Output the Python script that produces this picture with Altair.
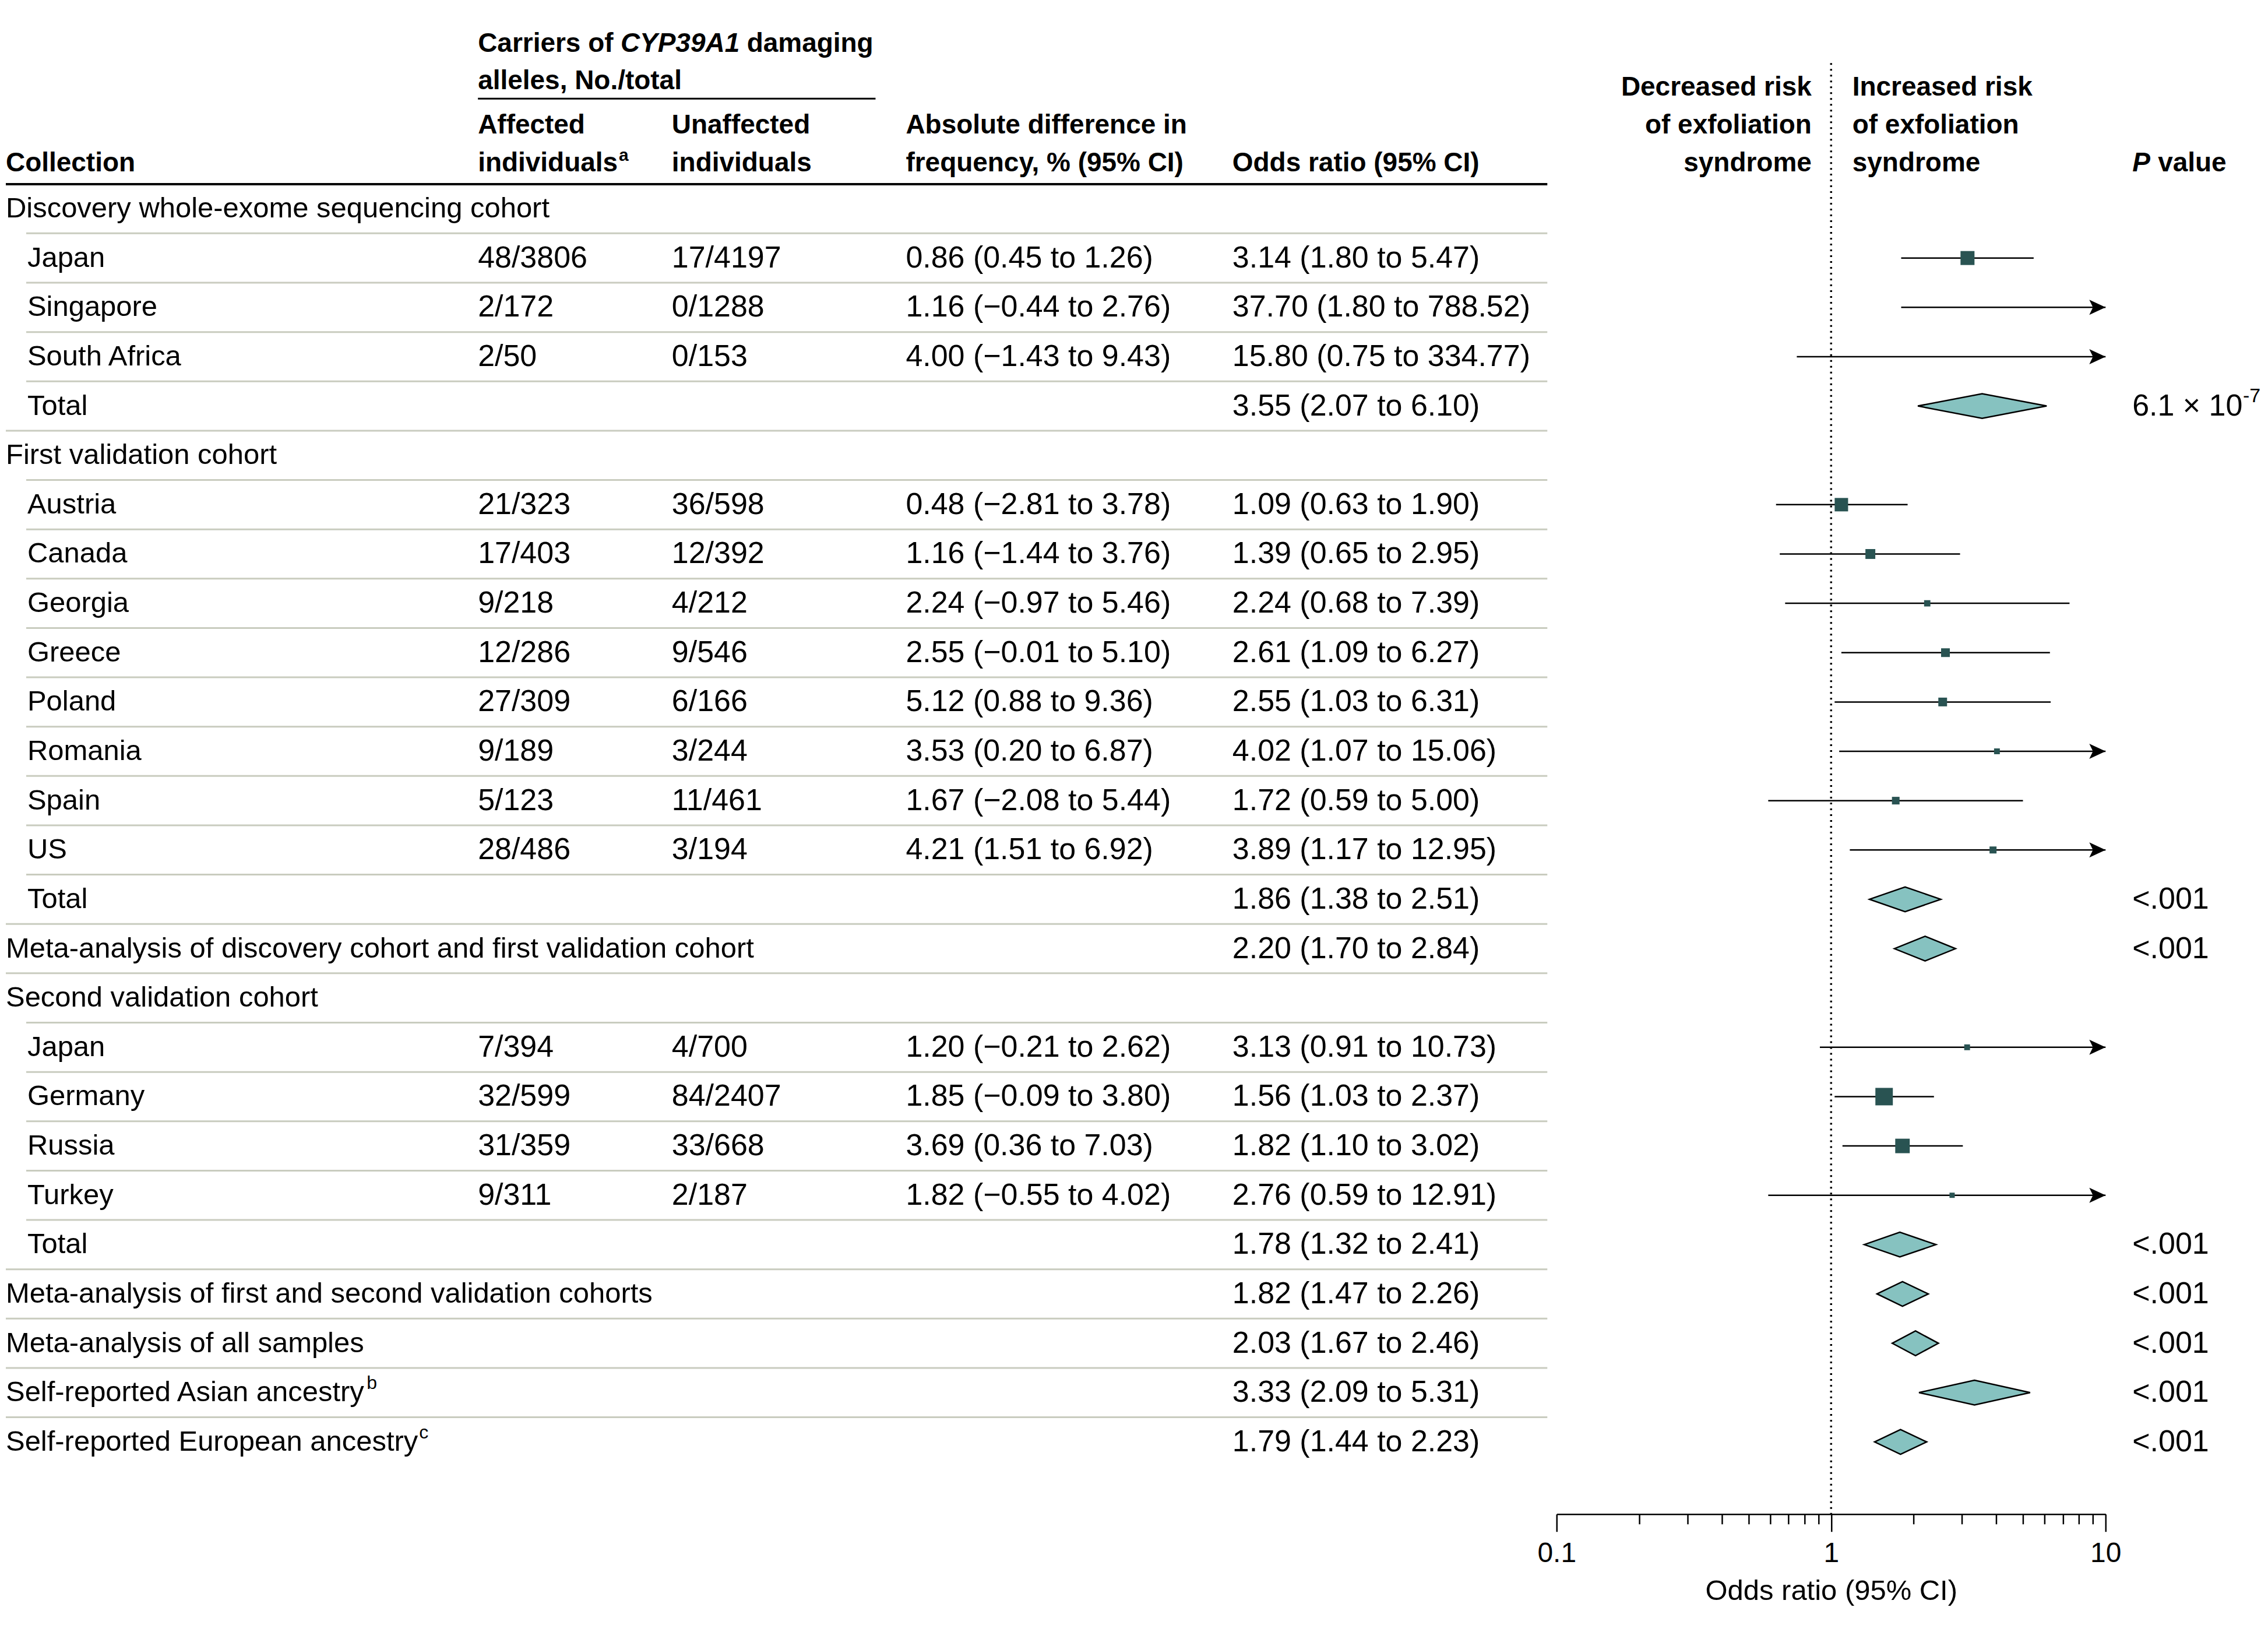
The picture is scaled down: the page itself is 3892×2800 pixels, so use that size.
import altair as alt
import pandas as pd
import numpy as np

# ---------------- data ----------------
labels = [
    "Discovery whole-exome sequencing cohort", "Japan", "Singapore", "South Africa", "Total",
    "First validation cohort", "Austria", "Canada", "Georgia", "Greece", "Poland", "Romania",
    "Spain", "US", "Total",
    "Meta-analysis of discovery cohort and first validation cohort",
    "Second validation cohort", "Japan", "Germany", "Russia", "Turkey", "Total",
    "Meta-analysis of first and second validation cohorts",
    "Meta-analysis of all samples",
    "Self-reported Asian ancestry",
    "Self-reported European ancestry",
]
notes = [""] * 24 + ["b", "c"]
kinds = [
    "group", "study", "study", "study", "summary",
    "group", "study", "study", "study", "study", "study", "study", "study", "study", "summary",
    "meta",
    "group", "study", "study", "study", "study", "summary",
    "meta", "meta", "meta", "meta",
]
affected = ["", "48/3806", "2/172", "2/50", "", "", "21/323", "17/403", "9/218", "12/286",
            "27/309", "9/189", "5/123", "28/486", "", "", "", "7/394", "32/599", "31/359",
            "9/311", "", "", "", "", ""]
unaffected = ["", "17/4197", "0/1288", "0/153", "", "", "36/598", "12/392", "4/212", "9/546",
              "6/166", "3/244", "11/461", "3/194", "", "", "", "4/700", "84/2407", "33/668",
              "2/187", "", "", "", "", ""]
absdiff = ["", "0.86 (0.45 to 1.26)", "1.16 (\u22120.44 to 2.76)", "4.00 (\u22121.43 to 9.43)", "", "",
           "0.48 (\u22122.81 to 3.78)", "1.16 (\u22121.44 to 3.76)", "2.24 (\u22120.97 to 5.46)",
           "2.55 (\u22120.01 to 5.10)", "5.12 (0.88 to 9.36)", "3.53 (0.20 to 6.87)",
           "1.67 (\u22122.08 to 5.44)", "4.21 (1.51 to 6.92)", "", "", "",
           "1.20 (\u22120.21 to 2.62)", "1.85 (\u22120.09 to 3.80)", "3.69 (0.36 to 7.03)",
           "1.82 (\u22120.55 to 4.02)", "", "", "", "", ""]
or_est = [None, 3.14, 37.70, 15.80, 3.55, None, 1.09, 1.39, 2.24, 2.61, 2.55, 4.02, 1.72, 3.89,
          1.86, 2.20, None, 3.13, 1.56, 1.82, 2.76, 1.78, 1.82, 2.03, 3.33, 1.79]
or_lo = [None, 1.80, 1.80, 0.75, 2.07, None, 0.63, 0.65, 0.68, 1.09, 1.03, 1.07, 0.59, 1.17,
         1.38, 1.70, None, 0.91, 1.03, 1.10, 0.59, 1.32, 1.47, 1.67, 2.09, 1.44]
or_hi = [None, 5.47, 788.52, 334.77, 6.10, None, 1.90, 2.95, 7.39, 6.27, 6.31, 15.06, 5.00, 12.95,
         2.51, 2.84, None, 10.73, 2.37, 3.02, 12.91, 2.41, 2.26, 2.46, 5.31, 2.23]
# relative study weights (drive the square size)
weights = [None, 64, None, None, None, None, 59, 32, 13, 25, 25, 11, 19, 16, None, None, None,
           11, 100, 69, 9, None, None, None, None, None]
pvals = ["", "", "", "", "6.1 \u00d7 10^-7", "", "", "", "", "", "", "", "", "",
         "<.001", "<.001", "", "", "", "", "", "<.001", "<.001", "<.001", "<.001", "<.001"]

# ---------------- layout / style ----------------
OX, OY = 8, 8
W, H = 3878, 2591
FONT = "Liberation Sans, Arial, sans-serif"
SQ = "#295352"
DIA = "#86c2c0"
SEP = "#c9ccbf"
TITLE = "Odds ratio (95% CI)"
HSIZE = 46      # header font size
LSIZE = 49      # row label font size
NSIZE = 52      # numbers font size

n = len(labels)
df = pd.DataFrame({
    "row": list(range(n)), "label": labels, "note": notes, "kind": kinds, "aff": affected,
    "unaff": unaffected, "absdiff": absdiff, "est": or_est, "lo": or_lo, "hi": or_hi,
    "w": weights, "p": pvals,
})
df["indent"] = df["kind"].isin(["study", "summary"])
df["or_text"] = [
    "" if pd.isna(e) else f"{e:.2f} ({l:.2f} to {h:.2f})"
    for e, l, h in zip(df["est"], df["lo"], df["hi"])
]
df["hi_clip"] = np.minimum(df["hi"], 10)
df["p_main"] = [p.split("^")[0] for p in df["p"]]
df["p_exp"] = [p.split("^")[1] if "^" in p else "" for p in df["p"]]

studies = df[df["kind"] == "study"].copy()
squares = studies[studies["est"] <= 10].copy()
arrows = studies[studies["hi"] > 10].copy()
summ = df[df["kind"].isin(["summary", "meta"])]
dia_rows = []
for _, r in summ.iterrows():
    dia_rows.append({"row": r["row"], "x": r["lo"], "ya": r["row"], "yb": r["row"]})
    dia_rows.append({"row": r["row"], "x": r["est"], "ya": r["row"] - 0.25, "yb": r["row"] + 0.25})
    dia_rows.append({"row": r["row"], "x": r["hi"], "ya": r["row"], "yb": r["row"]})
dia = pd.DataFrame(dia_rows)

sep = pd.DataFrame({"pos": [i + 0.5 for i in range(n - 1)],
                    "ind": [bool(df["indent"][i + 1]) for i in range(n - 1)]})
one = pd.DataFrame({"k": [0]})
one_v = pd.DataFrame({"v": [1.0]})

yscale = alt.Scale(domain=[0, n - 1], range=[357 - OY, 2475 - OY], nice=False, zero=False)
xscale = alt.Scale(type="log", domain=[0.1, 10], range=[2672 - OX, 3615 - OX], nice=False)

tick_vals = [0.1, 0.2, 0.3, 0.4, 0.5, 0.6, 0.7, 0.8, 0.9, 1, 2, 3, 4, 5, 6, 7, 8, 9, 10]
major_test = "abs(datum.value - 0.1) < 1e-6 || datum.value == 1 || datum.value == 10"
AX = alt.Axis(
    values=tick_vals,
    labelExpr="abs(datum.value - 0.1) < 1e-6 ? '0.1' : datum.value == 1 ? '1' : datum.value == 10 ? '10' : ''",
    tickSize={"condition": {"test": major_test, "value": 30}, "value": 17},
    labelFlush=False, labelOverlap=False, grid=False,
    domainColor="black", domainWidth=2.5, tickColor="black", tickWidth=2.5,
    labelFont=FONT, labelFontSize=48, labelColor="black", labelPadding=14,
    titleFont=FONT, titleFontSize=LSIZE, titleFontWeight="normal", titleColor="black",
    titlePadding=16,
)


def XF(field):
    return alt.X(f"{field}:Q", scale=xscale, axis=AX, title=TITLE)


YR = alt.Y("row:Q", scale=yscale, axis=None)

layers = []

# separators
layers.append(alt.Chart(sep[sep["ind"]]).mark_rule(color=SEP, strokeWidth=3).encode(
    y=alt.Y("pos:Q", scale=yscale, axis=None), x=alt.value(43 - OX), x2=alt.value(2656 - OX)))
layers.append(alt.Chart(sep[~sep["ind"]]).mark_rule(color=SEP, strokeWidth=3).encode(
    y=alt.Y("pos:Q", scale=yscale, axis=None), x=alt.value(0), x2=alt.value(2656 - OX)))

# header rules
layers.append(alt.Chart(one).mark_rule(color="black", strokeWidth=4).encode(
    y=alt.value(315 - OY), x=alt.value(0), x2=alt.value(2656 - OX)))
layers.append(alt.Chart(one).mark_rule(color="black", strokeWidth=3).encode(
    y=alt.value(168 - OY), x=alt.value(819 - OX), x2=alt.value(1502 - OX)))

# reference line at OR = 1
layers.append(alt.Chart(one_v).mark_rule(color="black", strokeWidth=3.5, strokeDash=[3, 7]).encode(
    x=XF("v"), y=alt.value(107 - OY), y2=alt.value(H)))

# CI lines
layers.append(alt.Chart(studies).mark_rule(color="black", strokeWidth=2.5).encode(
    x=XF("lo"), x2="hi_clip:Q", y=YR))
# arrow heads
ARROW = "M1,0 L-1,-0.93 L-0.55,0 L-1,0.93 Z"
layers.append(alt.Chart(arrows).mark_point(shape=ARROW, filled=True, color="black", opacity=1,
                                           size=784, xOffset=-14).encode(x=XF("hi_clip"), y=YR))
# squares
layers.append(alt.Chart(squares).mark_square(filled=True, color=SQ, opacity=1).encode(
    x=XF("est"), y=YR,
    size=alt.Size("w:Q", scale=alt.Scale(domain=[0, 100], range=[0, 900]), legend=None)))
# diamonds
layers.append(alt.Chart(dia).mark_area(orient="vertical", fill=DIA, fillOpacity=1, stroke="black",
                                       strokeWidth=2.5).encode(
    x=XF("x"), y=alt.Y("ya:Q", scale=yscale, axis=None), y2="yb:Q", detail="row:N"))


def coltext(data, field, x, size, dy=0):
    return alt.Chart(data).mark_text(align="left", baseline="middle", font=FONT, fontSize=size,
                                     color="black", dy=dy).encode(
        x=alt.value(x), y=YR, text=f"{field}:N")


layers.append(coltext(df[~df["indent"]], "label", 0, LSIZE))
layers.append(coltext(df[df["indent"]], "label", 45 - OX, LSIZE))
# footnote superscripts after the ancestry labels
layers.append(coltext(df[df["note"] == "b"], "note", 628 - OX, 32, dy=-16))
layers.append(coltext(df[df["note"] == "c"], "note", 718 - OX, 32, dy=-16))
layers.append(coltext(df[df["aff"] != ""], "aff", 819 - OX, NSIZE))
layers.append(coltext(df[df["unaff"] != ""], "unaff", 1152 - OX, NSIZE))
layers.append(coltext(df[df["absdiff"] != ""], "absdiff", 1554 - OX, NSIZE))
layers.append(coltext(df[df["or_text"] != ""], "or_text", 2115 - OX, NSIZE))
layers.append(coltext(df[df["p_main"] != ""], "p_main", 3661 - OX, NSIZE))
layers.append(coltext(df[df["p_exp"] != ""], "p_exp", 3851 - OX, 34, dy=-17))


def htxt(s, x, y, align="left", style="normal", weight="bold", size=HSIZE):
    return alt.Chart(one).mark_text(align=align, baseline="alphabetic", font=FONT, fontSize=size,
                                    fontWeight=weight, fontStyle=style, color="black").encode(
        x=alt.value(max(x - OX, 0)), y=alt.value(y - OY), text=alt.value(s))


layers += [
    htxt("Carriers of", 819, 88),
    htxt("CYP39A1", 1064, 88, style="italic"),
    htxt("damaging", 1281, 88),
    htxt("alleles, No./total", 819, 152),
    htxt("Affected", 819, 228),
    htxt("individuals", 819, 293),
    htxt("a", 1061, 275, size=30),
    htxt("Unaffected", 1152, 228),
    htxt("individuals", 1152, 293),
    htxt("Collection", 2, 293),
    htxt("Absolute difference in", 1554, 228),
    htxt("frequency, % (95% CI)", 1554, 293),
    htxt("Odds ratio (95% CI)", 2115, 293),
    htxt("Decreased risk", 3110, 163, align="right"),
    htxt("of exfoliation", 3110, 228, align="right"),
    htxt("syndrome", 3110, 293, align="right"),
    htxt("Increased risk", 3180, 163),
    htxt("of exfoliation", 3180, 228),
    htxt("syndrome", 3180, 293),
    htxt("P", 3661, 293, style="italic"),
    htxt("value", 3705, 293),
]

chart = alt.layer(*layers).properties(
    width=W, height=H, padding={"left": 0, "top": 0, "right": 0, "bottom": 0},
    background="white",
).configure_view(stroke=None)

chart.save("out.html", embed_options={"renderer": "svg", "actions": False})
